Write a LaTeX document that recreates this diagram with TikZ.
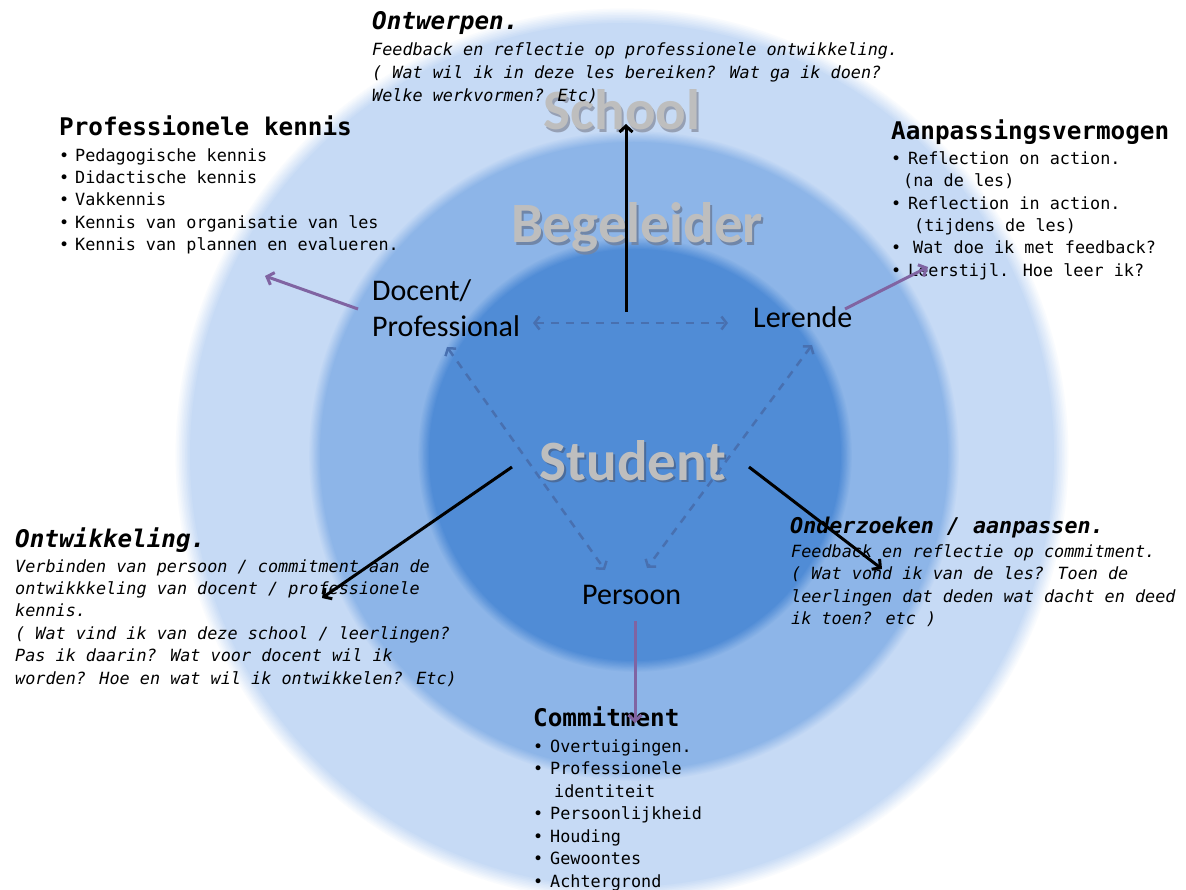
\documentclass[tikz,border=0pt]{standalone}
\usepackage{fontspec}
\usetikzlibrary{arrows.meta}
\newfontfamily\carl{Carlito}
\newfontfamily\monof{DejaVu Sans Mono}
\definecolor{ringL}{RGB}{198,218,245}
\definecolor{ringM}{RGB}{141,181,232}
\definecolor{ringI}{RGB}{80,140,214}
\definecolor{lblgray}{RGB}{190,190,190}
\definecolor{shadL}{RGB}{150,160,180}
\definecolor{shadM}{RGB}{112,134,168}
\definecolor{shadI}{RGB}{74,108,156}
\definecolor{purp}{RGB}{128,100,162}
\definecolor{dashc}{RGB}{72,112,176}
\newcommand\softdisk[6]{%
  \foreach \k in {0,...,10}{%
    \pgfmathsetmacro\pp{\k*10}%
    \pgfmathsetmacro\rr{#3+#4/2-\k*#4/10}%
    \fill[#5!\pp!#6] (#1,#2) circle[radius=\rr];
  }}
\newcommand\bul[1]{\makebox[#1][l]{•}}
\newcommand\shtext[2]{\makebox[0pt][l]{\hspace{2pt}\raisebox{-2.5pt}{\color{#1}#2}}#2}
\tikzset{
  gl/.style={font=\carl\bfseries\fontsize{57}{60}\selectfont, text=lblgray, inner sep=0pt, anchor=base},
  lab/.style={font=\carl\fontsize{30}{36}\selectfont, inner sep=0pt, anchor=base west},
  ttl/.style={font=\monof\bfseries\fontsize{24.3}{28}\selectfont, inner sep=0pt, anchor=base west},
  ttli/.style={ttl, font=\monof\bfseries\itshape\fontsize{24.3}{28}\selectfont},
  bod/.style={font=\monof\fontsize{16.8}{22.4}\selectfont, inner sep=0pt, anchor=north west, align=left},
  bodi/.style={bod, font=\monof\itshape\fontsize{16.8}{22.4}\selectfont},
  blk/.style={line width=3pt, black, -{Straight Barb[length=6pt,width=13pt]}},
  pur/.style={line width=3pt, purp, -{Straight Barb[length=6pt,width=13pt]}},
  dsh/.style={line width=2.5pt, dashc, dash pattern=on 8pt off 7pt,
    {Straight Barb[length=5pt,width=13pt]}-{Straight Barb[length=5pt,width=13pt]}},
}
\begin{document}
\begin{tikzpicture}[x=1pt,y=-1pt]
\useasboundingbox (0,0) rectangle (1186,890);
\clip (0,0) rectangle (1186,890);
\fill[white] (0,0) rectangle (1186,890);
% rings
\softdisk{622}{455}{440}{16}{ringL}{white}
\softdisk{634}{456}{320}{12}{ringM}{ringL}
\softdisk{635}{455}{212}{12}{ringI}{ringM}
% grey ring labels with shadow
\node[gl] (school) at (622,130) {\shtext{shadL}{School}};
\node[gl] (beg) at (637,243) {\shtext{shadM}{Begeleider}};
\node[gl] (stud) at (633,480) {\shtext{shadI}{Student}};
% role labels
\node[lab] (docent1) at (372,301) {Docent/};
\node[lab] (docent2) at (372,337) {Professional};
\node[lab] (lerende) at (753,328) {Lerende};
\node[lab] (persoon) at (582,604) {Persoon};
% Ontwerpen
\node[ttli] (ontwT) at (372,30) {Ontwerpen.};
\node[bodi, font=\monof\itshape\fontsize{16.8}{23}\selectfont] (ontwB) at (372,42.2)
 {Feedback en reflectie op professionele ontwikkeling.\\( Wat wil ik in deze les bereiken? Wat ga ik doen?\\Welke werkvormen? Etc)};
% Professionele kennis
\node[ttl] (profT) at (59,136) {Professionele kennis};
\node[bod, font=\monof\fontsize{16.8}{22.3}\selectfont] (profB) at (59,148.2)
 {\bul{16pt}Pedagogische kennis\\ \bul{16pt}Didactische kennis\\ \bul{16pt}Vakkennis\\ \bul{16pt}Kennis van organisatie van les\\ \bul{16pt}Kennis van plannen en evalueren.};
% Aanpassingsvermogen
\node[ttl] (aanpT) at (891,140) {Aanpassingsvermogen};
\node[bod] (aanpB) at (891,151.2)
 {\bul{17pt}Reflection on action.\\ \hspace*{12pt}(na de les)\\ \bul{17pt}Reflection in action.\\ \hspace*{23pt}(tijdens de les)\\ \bul{22pt}Wat doe ik met feedback?\\ \bul{17pt}Leerstijl. Hoe leer ik?};
% Ontwikkeling
\node[ttli] (ontwkT) at (15,547) {Ontwikkeling.};
\node[bodi] (ontwkB) at (15,559.2)
 {Verbinden van persoon / commitment aan de\\ontwikkkeling van docent / professionele\\kennis.\\( Wat vind ik van deze school / leerlingen?\\Pas ik daarin? Wat voor docent wil ik\\worden? Hoe en wat wil ik ontwikkelen? Etc)};
% Onderzoeken
\node[ttli, font=\monof\bfseries\itshape\fontsize{21.7}{26}\selectfont] (ondT) at (790,533) {Onderzoeken / aanpassen.};
\node[bodi] (ondB) at (791,544.2)
 {Feedback en reflectie op commitment.\\( Wat vond ik van de les? Toen de\\leerlingen dat deden wat dacht en deed\\ik toen? etc )};
% Commitment
\node[ttl] (comT) at (533,726) {Commitment};
\node[bod, font=\monof\fontsize{16.8}{22.5}\selectfont] (comB) at (533,739.2)
 {\bul{17pt}Overtuigingen.\\ \bul{17pt}Professionele\\ \hspace*{21pt}identiteit\\ \bul{17pt}Persoonlijkheid\\ \bul{17pt}Houding\\ \bul{17pt}Gewoontes\\ \bul{17pt}Achtergrond};
% connector end points
\coordinate (dDocR) at (533,323);
\coordinate (dLerL) at (728,323);
\coordinate (dDocB) at (447,347);
\coordinate (dPerL) at (605,570);
\coordinate (dLerB) at (812,345);
\coordinate (dPerR) at (647,568);
\coordinate (upS) at (626,312);
\coordinate (upE) at (626,124);
\coordinate (lfS) at (512,467);
\coordinate (lfE) at (322,598);
\coordinate (rtS) at (749,467);
\coordinate (rtE) at (882,569);
\coordinate (p1S) at (358,309);
\coordinate (p1E) at (265,276);
\coordinate (p2S) at (845,309);
\coordinate (p2E) at (928,267);
\coordinate (p3S) at (635,621);
\coordinate (p3E) at (635,723);
% dashed triangle
\draw[dsh] (dDocR) -- (dLerL);
\draw[dsh] (dDocB) -- (dPerL);
\draw[dsh] (dLerB) -- (dPerR);
% black arrows
\draw[blk] (upS) -- (upE);
\draw[blk] (lfS) -- (lfE);
\draw[blk] (rtS) -- (rtE);
% purple arrows
\draw[pur] (p1S) -- (p1E);
\draw[pur] (p2S) -- (p2E);
\draw[pur] (p3S) -- (p3E);
\end{tikzpicture}
\end{document}
